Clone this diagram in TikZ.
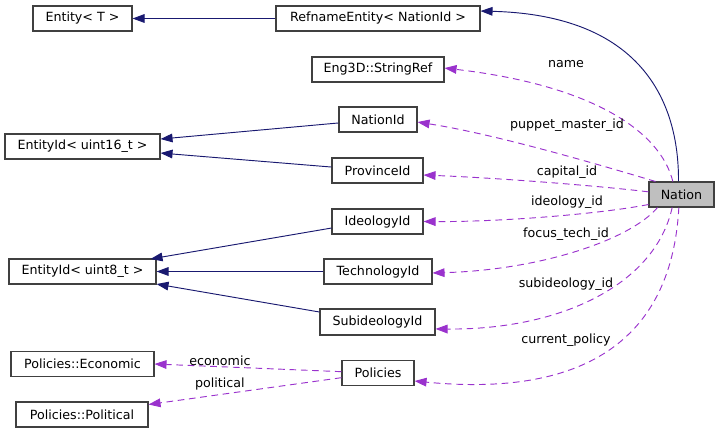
\documentclass[tikz,border=0pt]{standalone}
\usepackage{fontspec}
\setmainfont{DejaVu Sans}
\usetikzlibrary{arrows.meta}
\definecolor{navyedge}{HTML}{191970}
\definecolor{orchidedge}{HTML}{9A32CD}
\definecolor{boxline}{HTML}{404040}
\definecolor{natfill}{HTML}{BFBFBF}
\begin{document}
\begin{tikzpicture}[x=0.75pt,y=-0.75pt,
  box/.style={draw=boxline,line width=0.8pt,fill=white,inner sep=0pt,minimum height=18.75pt,font=\fontsize{9.5}{11}\selectfont},
  lbl/.style={inner sep=0pt,font=\fontsize{9.5}{11}\selectfont},
  inh/.style={draw=navyedge,line width=0.7pt,-{Triangle[length=9pt,width=6.5pt]}},
  use/.style={draw=orchidedge,line width=0.7pt,dash pattern=on 5pt off 3.5pt,-{Triangle[length=9pt,width=6.5pt]}}]
\useasboundingbox (0,0) rectangle (720,433);
\node[box,minimum width=74.25pt] (ent) at (82.5,18.5) {Entity< T >};
\node[box,minimum width=153pt] (ref) at (378,18.5) {RefnameEntity< NationId >};
\node[box,minimum width=99pt] (str) at (378,69.5) {Eng3D::StringRef};
\node[box,minimum width=58.5pt] (nid) at (378,119.5) {NationId};
\node[box,minimum width=116.25pt] (e16) at (82.5,146.5) {EntityId< uint16\_t >};
\node[box,minimum width=68.25pt] (pid) at (377.5,170.5) {ProvinceId};
\node[box,minimum width=68.25pt] (iid) at (377.5,221.5) {IdeologyId};
\node[box,minimum width=110.25pt] (e8) at (82.5,271.5) {EntityId< uint8\_t >};
\node[box,minimum width=81pt] (tid) at (378,271.5) {TechnologyId};
\node[box,minimum width=86.25pt,minimum height=19.5pt] (sid) at (377.5,322) {SubideologyId};
\node[box,minimum width=107.25pt] (pe) at (82.5,364) {Policies::Economic};
\node[box,minimum width=54pt] (pol) at (378,373) {Policies};
\node[box,minimum width=99pt] (pp) at (82,414.5) {Policies::Political};
\node[box,minimum width=48.75pt,fill=natfill] (nat) at (681.5,194.5) {Nation};

% inheritance
\draw[inh] (ref.west) -- (ent.east);
\draw[inh] ([xshift=-2.25pt]nat.north) .. controls (679,100) and (640,15) .. ([yshift=5.6pt]ref.east);
\draw[inh] ([yshift=-2.6pt]nid.west) -- ([yshift=5.6pt]e16.east);
\draw[inh] ([yshift=2.6pt]pid.west) -- ([yshift=-4.9pt]e16.east);
\draw[inh] ([yshift=-4.9pt]iid.west) -- ([xshift=-4.5pt,yshift=9.4pt]e8.east);
\draw[inh] (tid.west) -- (e8.east);
\draw[inh] ([yshift=7.5pt]sid.west) -- ([yshift=-9.4pt]e8.east);

% usage
\draw[use] ([yshift=1pt]pol.west) -- (pe.east) node[lbl,pos=0.65,above=0.5pt] {economic};
\draw[use] ([yshift=-3.5pt]pol.west) -- ([yshift=7.5pt]pp.east) node[lbl,pos=0.63,above=3pt] {political};

\draw[use] ([xshift=-6.5pt]nat.north) .. controls (660,130) and (590,85) .. ([yshift=1.1pt]str.east);
\draw[use] ([xshift=-19.5pt]nat.north) .. controls (610,168) and (500,135) .. ([yshift=-1.9pt]nid.east);
\draw[use] ([yshift=2pt]nat.west) .. controls (600,186) and (500,178) .. ([yshift=-3.4pt]pid.east);
\draw[use] ([yshift=-7.5pt]nat.west) .. controls (600,214) and (500,222) .. (iid.east);
\draw[use] ([xshift=-18pt]nat.south) .. controls (630,240) and (540,270) .. ([yshift=-1.1pt]tid.east);
\draw[use] ([xshift=-7pt]nat.south) .. controls (655,285) and (560,330) .. ([yshift=-5.2pt]sid.east);
\draw[use] ([xshift=-2pt]nat.south) .. controls (672,335) and (590,398) .. ([yshift=-6pt]pol.east);

\node[lbl] (lname) at (566,64) {name};
\node[lbl] (lpup) at (567,125) {puppet\_master\_id};
\node[lbl] (lcap) at (567,172) {capital\_id};
\node[lbl] (lide) at (567,202) {ideology\_id};
\node[lbl] (lfoc) at (566,234) {focus\_tech\_id};
\node[lbl] (lsub) at (566,284) {subideology\_id};
\node[lbl] (lcur) at (566,340) {current\_policy};
\end{tikzpicture}
\end{document}
